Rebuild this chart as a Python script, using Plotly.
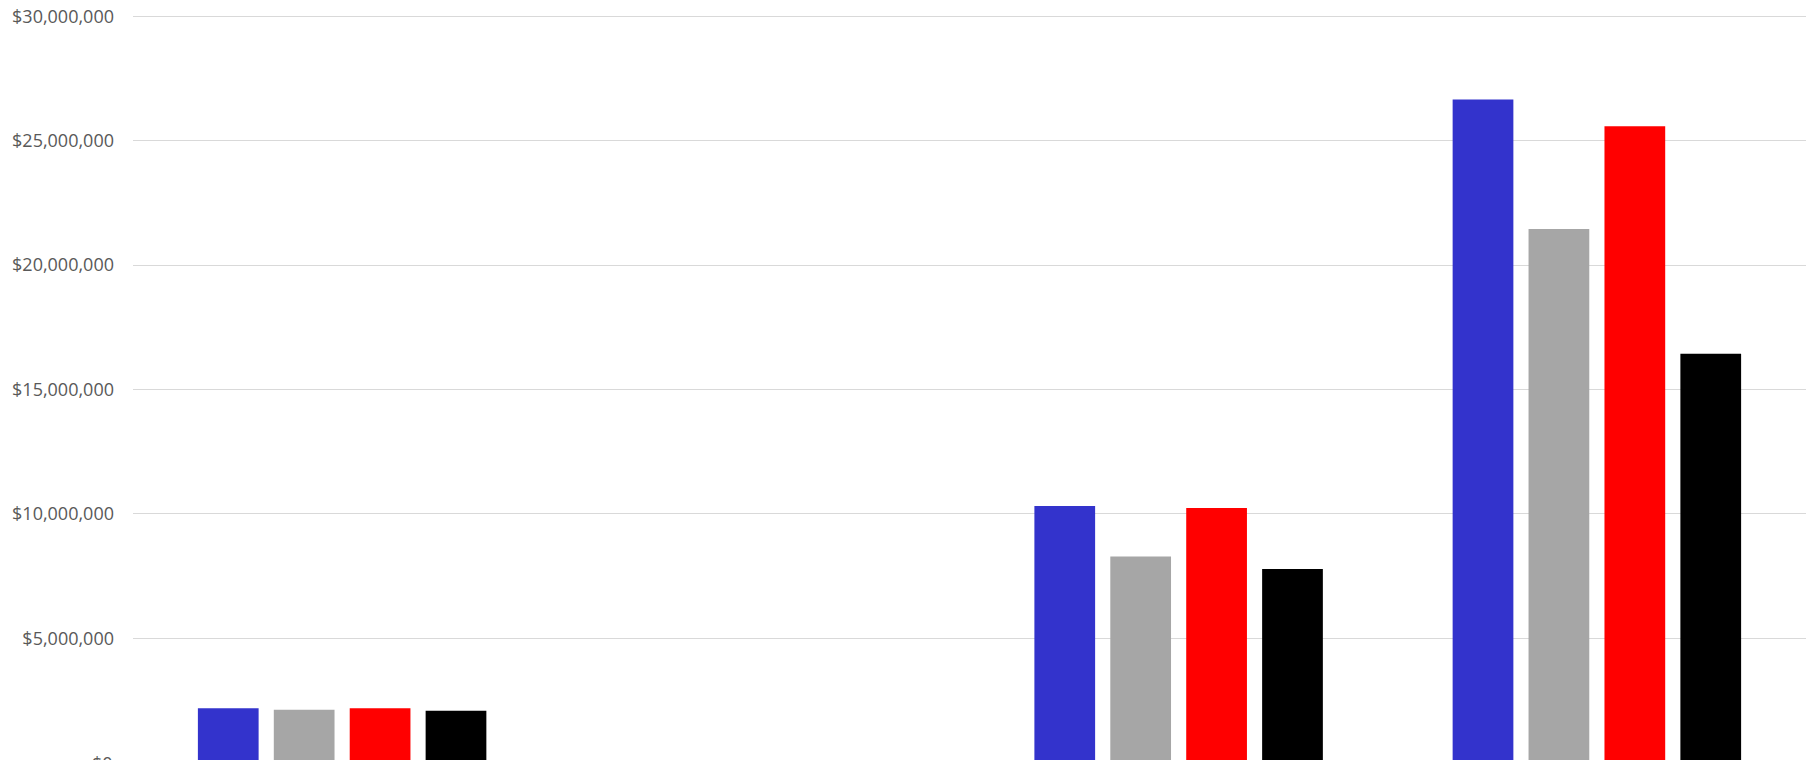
import plotly.graph_objects as go

categories = ["Category 1", "Category 2", "Category 3", "Category 4"]
series_names = ["Series 1", "Series 2", "Series 3", "Series 4"]
series_1 = [2180000, None, 10310000, 26650000]
series_2 = [2120000, None, 8280000, 21450000]
series_3 = [2180000, None, 10230000, 25580000]
series_4 = [2080000, None, 7780000, 16430000]
colors = ["#3333CC", "#A6A6A6", "#FF0000", "#000000"]
tick_values = [0, 5000000, 10000000, 15000000, 20000000, 25000000, 30000000]

fig = go.Figure()
for name, vals, col in zip(series_names, [series_1, series_2, series_3, series_4], colors):
    fig.add_trace(go.Bar(x=categories, y=vals, name=name, marker=dict(color=col, line=dict(width=0))))

fig.update_layout(
    width=1815, height=760,
    margin=dict(l=133, r=9, t=10, b=0),
    plot_bgcolor="white", paper_bgcolor="white",
    barmode="group", bargap=0.274, bargroupgap=0.2,
    showlegend=False,
    font=dict(family="Open Sans", size=18, color="#595959"),
)
fig.update_yaxes(
    range=[104500, 30249000], tickvals=tick_values, tickformat="$,.0f",
    showgrid=True, gridcolor="#D9D9D9", gridwidth=1.3, zeroline=False,
    ticklabelstandoff=18, automargin=False, showline=False,
)
fig.update_xaxes(showgrid=False, showline=False, automargin=False, showticklabels=False)
fig.add_annotation(x=0, xref="paper", xanchor="right", xshift=-18,
                   y=-0.0035, yref="paper", yanchor="middle",
                   text="$0", showarrow=False, font=dict(family="Open Sans", size=18, color="#595959"))
fig.write_html("out.html")
